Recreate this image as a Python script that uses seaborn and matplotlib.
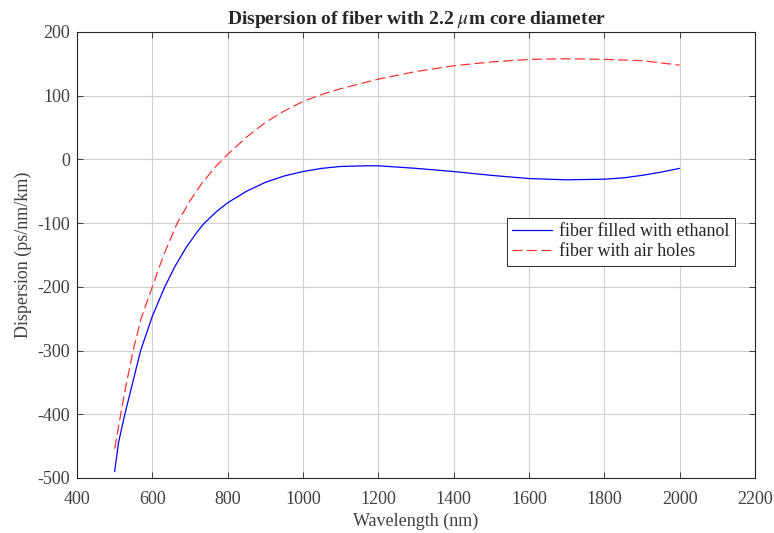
import matplotlib
matplotlib.use('Agg')
import matplotlib.pyplot as plt
import pandas as pd
import seaborn as sns

# values
wl_ethanol = [500, 510, 527, 550, 569, 600, 633, 660, 690, 720, 738, 770, 800, 850, 900, 950,
              1000, 1050, 1100, 1170, 1200, 1300, 1400, 1500, 1600, 1700, 1800, 1850, 1900,
              1950, 2000]
d_ethanol = [-490, -445, -400, -345, -300, -246, -200, -168, -138, -113, -100, -82, -68, -50,
             -36, -26, -19, -14, -11, -10, -10, -14, -19, -25, -30, -32, -31, -29, -25, -20,
             -14]

wl_air = [500, 516, 530, 549, 570, 600, 630, 666, 700, 732, 770, 800, 850, 900, 950, 1000,
          1050, 1100, 1200, 1300, 1400, 1500, 1600, 1700, 1800, 1900, 2000]
d_air = [-454, -400, -355, -300, -250, -200, -150, -100, -65, -37, -10, 8, 35, 58, 76, 91,
         102, 111, 126, 138, 147, 153, 157, 158, 157, 155, 148]

df = pd.concat([
    pd.DataFrame({'wl': wl_ethanol, 'D': d_ethanol, 'fiber': 'fiber filled with ethanol'}),
    pd.DataFrame({'wl': wl_air, 'D': d_air, 'fiber': 'fiber with air holes'}),
])

sns.set_theme(style='whitegrid')
plt.rcParams['font.family'] = ['Liberation Serif', 'DejaVu Serif']
plt.rcParams['mathtext.fontset'] = 'stix'
plt.rcParams['axes.unicode_minus'] = False

fig = plt.figure(figsize=(7.74, 5.33), dpi=100)
ax = fig.add_axes([77/774, 1-478/533, (755-77)/774, (478-32)/533])

sns.lineplot(data=df, x='wl', y='D', hue='fiber', style='fiber',
             palette={'fiber filled with ethanol': '#0000ff', 'fiber with air holes': '#ff3333'},
             dashes={'fiber filled with ethanol': '', 'fiber with air holes': (8, 3.5)},
             linewidth=0.9, ax=ax, estimator=None, sort=False)

ax.set_xlim(400, 2200)
ax.set_ylim(-500, 200)
ax.set_xticks(range(400, 2201, 200))
ax.set_yticks(range(-500, 201, 100))
ax.grid(True, color='#d0d0d0', linewidth=0.8)
for s in ax.spines.values():
    s.set_color('#262626')
    s.set_linewidth(0.8)
ax.tick_params(axis='both', direction='in', length=4, width=0.6, colors='#262626',
               labelsize=13, labelcolor='#404040', top=True, right=True, bottom=True, left=True,
               pad=5)
ax.tick_params(axis='x', pad=9)

ax.set_xlabel('Wavelength (nm)', fontsize=13, color='#404040', labelpad=4)
ax.set_ylabel('Dispersion (ps/nm/km)', fontsize=13, color='#404040', labelpad=4)
ax.set_title(r'Dispersion of fiber with 2.2 $\mu$m core diameter', fontsize=14,
             fontweight='bold', pad=6)

leg = ax.legend(loc='upper right', bbox_to_anchor=(0.97, 0.583), fontsize=13,
                frameon=True, fancybox=False, edgecolor='#262626', framealpha=1,
                handlelength=2.2, handletextpad=0.4, borderpad=0.3, labelspacing=0.15,
                borderaxespad=0)
leg.get_frame().set_linewidth(0.7)

fig.savefig('out.png', dpi=100)
